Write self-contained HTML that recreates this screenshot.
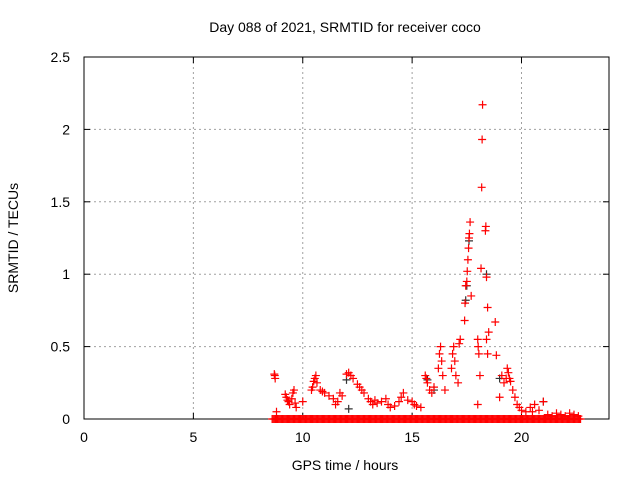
<!DOCTYPE html>
<html><head><meta charset="utf-8"><style>
body{margin:0;background:#fff}
svg text{font-family:"Liberation Sans",sans-serif;font-size:14px;fill:#000}
</style></head><body>
<svg id="chart" width="640" height="480" viewBox="0 0 640 480">
<rect width="640" height="480" fill="#fff"/>
<text x="345" y="32" text-anchor="middle">Day 088 of 2021, SRMTID for receiver coco</text>
<g id="grid"></g>
<g id="axes"></g>
<g id="marks"></g>
<text x="345" y="470" text-anchor="middle">GPS time / hours</text>
<text transform="translate(18,238) rotate(-90)" text-anchor="middle">SRMTID / TECUs</text>
</svg>
<script>
const xTicks=[0,5,10,15,20];
const yTicks=[0,0.5,1,1.5,2,2.5];
const yTickLabels=["0","0.5","1","1.5","2","2.5"];
const redHours=[8.7,8.72,8.74,8.8,9.2,9.25,9.3,9.35,9.4,9.5,9.55,9.6,9.65,9.7,10.0,10.4,10.45,10.5,10.55,10.6,10.65,10.8,10.9,11.0,11.2,11.4,11.5,11.6,11.7,11.8,12.0,12.1,12.2,12.3,12.5,12.6,12.7,12.8,13.0,13.1,13.2,13.3,13.4,13.6,13.8,13.9,14.0,14.2,14.4,14.5,14.6,14.8,15.0,15.1,15.2,15.4,15.6,15.65,15.7,15.8,15.9,16.0,16.2,16.25,16.3,16.35,16.4,16.5,16.8,16.85,16.9,16.95,17.0,17.1,17.15,17.2,17.4,17.42,17.45,17.5,17.52,17.55,17.58,17.6,17.62,17.65,17.7,18.0,18.02,18.05,18.1,18.0,18.15,18.18,18.2,18.22,18.35,18.37,18.4,18.45,18.5,18.4,18.45,18.8,18.85,19.0,19.1,19.2,19.3,19.35,19.4,19.45,19.5,19.6,19.7,19.8,19.9,20.0,20.2,20.4,20.5,20.6,20.8,21.0,21.2,21.4,21.6,21.8,22.0,22.2,22.4,22.6];
const redValues=[0.31,0.30,0.28,0.05,0.17,0.15,0.13,0.12,0.10,0.14,0.18,0.20,0.11,0.08,0.12,0.20,0.22,0.26,0.28,0.30,0.25,0.20,0.19,0.18,0.16,0.14,0.10,0.12,0.18,0.16,0.31,0.32,0.30,0.28,0.24,0.22,0.20,0.18,0.14,0.12,0.10,0.13,0.11,0.12,0.14,0.10,0.08,0.09,0.12,0.15,0.18,0.13,0.12,0.10,0.09,0.08,0.30,0.28,0.25,0.20,0.18,0.22,0.35,0.45,0.50,0.40,0.30,0.20,0.35,0.45,0.50,0.40,0.30,0.25,0.52,0.55,0.68,0.80,0.92,0.95,1.02,1.10,1.18,1.25,1.28,1.36,0.85,0.55,0.50,0.45,0.30,0.10,1.04,1.60,1.93,2.17,1.30,1.33,0.98,0.77,0.60,0.55,0.45,0.67,0.44,0.15,0.30,0.25,0.28,0.35,0.32,0.28,0.26,0.20,0.15,0.10,0.08,0.06,0.05,0.08,0.05,0.10,0.06,0.12,0.03,0.02,0.04,0.03,0.02,0.04,0.03,0.02];
const zeroHours=[8.6,8.65,8.7,8.75,8.8,8.85,8.9,8.95,9.0,9.05,9.1,9.15,9.2,9.25,9.3,9.35,9.4,9.45,9.5,9.55,9.6,9.65,9.7,9.75,9.8,9.85,9.9,9.95,10.0,10.05,10.1,10.15,10.2,10.25,10.3,10.35,10.4,10.45,10.5,10.55,10.6,10.65,10.7,10.75,10.8,10.85,10.9,10.95,11.0,11.05,11.1,11.15,11.2,11.25,11.3,11.35,11.4,11.45,11.5,11.55,11.6,11.65,11.7,11.75,11.8,11.85,11.9,11.95,12.0,12.05,12.1,12.15,12.2,12.25,12.3,12.35,12.4,12.45,12.5,12.55,12.6,12.65,12.7,12.75,12.8,12.85,12.9,12.95,13.0,13.05,13.1,13.15,13.2,13.25,13.3,13.35,13.4,13.45,13.5,13.55,13.6,13.65,13.7,13.75,13.8,13.85,13.9,13.95,14.0,14.05,14.1,14.15,14.2,14.25,14.3,14.35,14.4,14.45,14.5,14.55,14.6,14.65,14.7,14.75,14.8,14.85,14.9,14.95,15.0,15.05,15.1,15.15,15.2,15.25,15.3,15.35,15.4,15.45,15.5,15.55,15.6,15.65,15.7,15.75,15.8,15.85,15.9,15.95,16.0,16.05,16.1,16.15,16.2,16.25,16.3,16.35,16.4,16.45,16.5,16.55,16.6,16.65,16.7,16.75,16.8,16.85,16.9,16.95,17.0,17.05,17.1,17.15,17.2,17.25,17.3,17.35,17.4,17.45,17.5,17.55,17.6,17.65,17.7,17.75,17.8,17.85,17.9,17.95,18.0,18.05,18.1,18.15,18.2,18.25,18.3,18.35,18.4,18.45,18.5,18.55,18.6,18.65,18.7,18.75,18.8,18.85,18.9,18.95,19.0,19.05,19.1,19.15,19.2,19.25,19.3,19.35,19.4,19.45,19.5,19.55,19.6,19.65,19.7,19.75,19.8,19.85,19.9,19.95,20.0,20.05,20.1,20.15,20.2,20.25,20.3,20.35,20.4,20.45,20.5,20.55,20.6,20.65,20.7,20.75,20.8,20.85,20.9,20.95,21.0,21.05,21.1,21.15,21.2,21.25,21.3,21.35,21.4,21.45,21.5,21.55,21.6,21.65,21.7,21.75,21.8,21.85,21.9,21.95,22.0,22.05,22.1,22.15,22.2,22.25,22.3,22.35,22.4,22.45,22.5,22.55,22.6,22.65,22.7];
const blackHours=[17.5,17.6,18.4,17.45,19.0,21.0,12.0,15.7,16.0,12.1];
const blackValues=[0.92,1.23,1.00,0.82,0.28,0.12,0.27,0.27,0.20,0.07];

const X0=84,X1=609,Y0=419,Y1=57,XMAX=24,YMAX=2.5;
const xs=h=>X0+h/XMAX*(X1-X0);
const ys=v=>Y0-v/YMAX*(Y0-Y1);
const NS="http://www.w3.org/2000/svg";
function mk(t,a,p){const e=document.createElementNS(NS,t);for(const k in a)e.setAttribute(k,a[k]);p.appendChild(e);return e;}
const grid=document.getElementById('grid'),axes=document.getElementById('axes'),marks=document.getElementById('marks');
xTicks.forEach((t,i)=>{const x=xs(t);
 if(i>0){const g=mk('line',{x1:x,x2:x,y1:Y1,y2:Y0,stroke:'#a0a0a0','stroke-dasharray':'2,3'},grid);
 
 }
 mk('line',{x1:x,x2:x,y1:Y0,y2:Y0-6,stroke:'#000'},axes);mk('line',{x1:x,x2:x,y1:Y1,y2:Y1+6,stroke:'#000'},axes);
 const l=mk('text',{x:x,y:Y0+23,'text-anchor':'middle'},axes);l.textContent=t;
 
 });
yTicks.forEach((t,i)=>{const y=ys(t);
 if(i>0&&i<yTicks.length-1){const g=mk('line',{x1:X0,x2:X1,y1:y,y2:y,stroke:'#a0a0a0','stroke-dasharray':'2,3'},grid);
 
 }
 mk('line',{x1:X0,x2:X0+6,y1:y,y2:y,stroke:'#000'},axes);mk('line',{x1:X1,x2:X1-6,y1:y,y2:y,stroke:'#000'},axes);
 const l=mk('text',{x:X0-14,y:y+5,'text-anchor':'end'},axes);l.textContent=yTickLabels[i];
 
 });
mk('rect',{x:X0,y:Y1,width:X1-X0,height:Y0-Y1,fill:'none',stroke:'#000'},axes);
function plus(h,v,c,name){const x=xs(h),y=ys(v);
 const p=mk('path',{d:`M${x-4},${y}h8M${x},${y-4}v8`,stroke:c,'stroke-width':1.2,fill:'none'},marks);
 
 }
blackHours.forEach((h,i)=>plus(h,blackValues[i],'#333','black-point'));
zeroHours.forEach(h=>plus(h,0,'#f00','zero-point'));
redHours.forEach((h,i)=>plus(h,redValues[i],'#f00','red-point'));
</script>
</body></html>
